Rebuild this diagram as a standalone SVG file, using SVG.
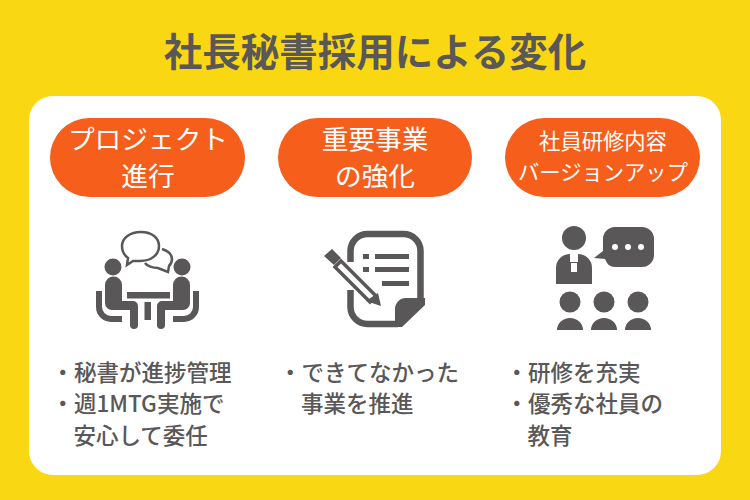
<svg xmlns="http://www.w3.org/2000/svg" width="750" height="500" viewBox="0 0 750 500">
<style>
text{font-family:"Noto Sans CJK JP","Noto Sans",sans-serif}
.t{font-size:38.5px;font-weight:700;fill:#595757;text-anchor:middle}
.p{fill:#f65e1b}
.h{font-size:26.700px;fill:#fff;text-anchor:middle;font-weight:400}
.s{font-size:21.300px;fill:#fff;text-anchor:middle;font-weight:400}
.b{font-size:22.500px;fill:#595757;font-weight:500}
.i{fill:#595757}
.o{fill:none;stroke:#595757}
</style>
<rect width="750" height="500" fill="#f9d712"/>
<rect x="29" y="96" width="692" height="379" rx="24" fill="#fff"/>
<text class="t" x="375" y="65.500">社長秘書採用による変化</text>
<g id="node1">
<rect class="p" x="50" y="118" width="195" height="79" rx="39.500"/>
<text class="h" x="148" y="149">プロジェクト</text>
<text class="h" x="148" y="186">進行</text>
<g id="icon1">
<path d="M162 249c6 2 10 5 10 10 0 3-1 5-3 7l-1 6-10-4c-5 0-11-2-13-5" fill="#fff" stroke="#595757" stroke-width="2.500"/>
<path d="M141 232c11 0 18 6 18 14 0 9-8 15-19 15-2 0-5 0-7 0l-6 4 1-7c-4-3-6-7-6-12 0-8 8-14 19-14z" fill="#fff" stroke="#595757" stroke-width="2.500"/>
<circle class="i" cx="113" cy="267" r="8.500"/>
<circle class="i" cx="182" cy="267" r="8.500"/>
<path class="i" d="M105 285a8.500 8.500 0 0 1 17 0v16h11a5 5 0 0 1 5 5v19a4 4 0 0 1-8 0v-15h-18a7 7 0 0 1-7-7z"/>
<path class="i" d="M190 285a8.500 8.500 0 0 0-17 0v16h-11a5 5 0 0 0-5 5v19a4 4 0 0 0 8 0v-15h18a7 7 0 0 0 7-7z"/>
<rect class="i" x="127" y="292" width="43" height="6.500"/>
<rect class="i" x="144.500" y="302" width="6.500" height="18"/>
<path class="o" stroke-width="6" d="M99 291v16a12 12 0 0 0 12 12h11"/>
<path class="o" stroke-width="6" d="M196 291v16a12 12 0 0 1-12 12h-11"/>
</g>
<text class="b" x="51.500" y="381">・秘書が進捗管理</text>
<text class="b" x="51.500" y="412">・週1MTG実施で</text>
<text class="b" x="73.500" y="444">安心して委任</text>
</g>
<g id="node2">
<rect class="p" x="278" y="118" width="194" height="79" rx="39.500"/>
<text class="h" x="375" y="149">重要事業</text>
<text class="h" x="375" y="186">の強化</text>
<g id="icon2">
<path class="o" stroke-width="6.500" d="M350.500 262v-11a17 17 0 0 1 17-17h36a17 17 0 0 1 17 17v50l-24 23h-29a17 17 0 0 1-17-17v-17"/>
<path class="i" d="M425 298v7l-23 22h-7v-18a11 11 0 0 1 11-11z"/>
<rect class="i" x="363" y="254" width="6" height="5"/><rect class="i" x="375" y="254" width="34" height="5"/>
<rect class="i" x="363" y="267" width="6" height="5"/><rect class="i" x="375" y="267" width="34" height="5"/>
<rect class="i" x="382" y="281" width="27" height="5"/>
<path class="i" d="M332 249l9 9-7 7-10-9z"/>
<path d="M341 261l35 35-6 6-35-35z" fill="#fff" stroke="#595757" stroke-width="3.500"/>
<path class="i" d="M378 293l3 13-15-5z"/>
</g>
<text class="b" x="279" y="381">・できてなかった</text>
<text class="b" x="301" y="412">事業を推進</text>
</g>
<g id="node3">
<rect class="p" x="505" y="118" width="195" height="79" rx="39.500"/>
<text class="s" x="603" y="149">社員研修内容</text>
<text class="s" x="603" y="180">バージョンアップ</text>
<g id="icon3">
<circle class="i" cx="574" cy="238" r="12"/>
<path class="i" d="M556 284v-16a14 14 0 0 1 14-14v8h8v-8a14 14 0 0 1 14 14v16zM571 263v9h6v-9z" fill-rule="evenodd"/>
<path class="i" d="M594 258l9-7v-12a12 12 0 0 1 12-12h27a12 12 0 0 1 12 12v16a12 12 0 0 1-12 12h-27c-5 0-8-3-10-8z"/>
<circle cx="615" cy="247" r="3" fill="#fff"/><circle cx="628" cy="247" r="3" fill="#fff"/><circle cx="641" cy="247" r="3" fill="#fff"/>
<circle class="i" cx="570" cy="302" r="10.500"/><circle class="i" cx="604" cy="302" r="10.500"/><circle class="i" cx="638" cy="302" r="10.500"/>
<path class="i" d="M557 330a13 12 0 0 1 26 0zM591 330a13 12 0 0 1 26 0zM625 330a13 12 0 0 1 26 0z"/>
</g>
<text class="b" x="505.500" y="381">・研修を充実</text>
<text class="b" x="505.500" y="412">・優秀な社員の</text>
<text class="b" x="527.500" y="444">教育</text>
</g>
</svg>
